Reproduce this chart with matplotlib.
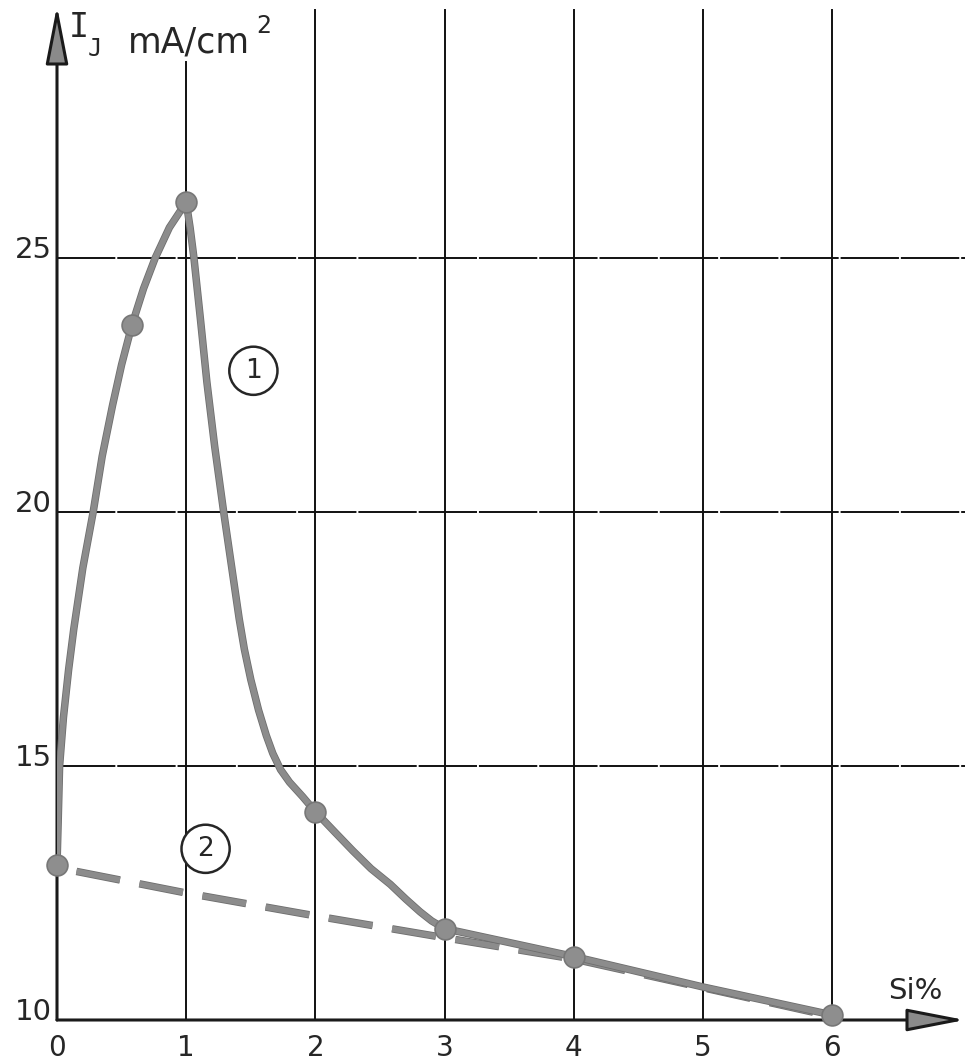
import matplotlib
matplotlib.use('Agg')
import matplotlib.pyplot as plt
import matplotlib.patheffects as pe

# ---- data ----
si_ticks = [0, 1, 2, 3, 4, 5, 6]
si_labels = ['0', '1', '2', '3', '4', '5', '6']
ij_ticks = [10, 15, 20, 25]
ij_labels = ['10', '15', '20', '25']

# curve 1 (solid)
curve1_x = [0.0, 0.01, 0.02, 0.05, 0.09, 0.13, 0.20, 0.28, 0.35, 0.43, 0.50, 0.58,
            0.67, 0.76, 0.87, 1.0, 1.03, 1.06, 1.11, 1.16, 1.22, 1.29, 1.33, 1.37,
            1.41, 1.45, 1.50, 1.56, 1.62, 1.67, 1.73, 1.80, 1.90, 2.0, 2.15, 2.29,
            2.43, 2.58, 2.70, 2.81, 2.90, 3.0, 4.0, 5.0, 6.0]
curve1_y = [13.05, 14.0, 15.0, 15.96, 16.9, 17.7, 18.9, 20.0, 21.1, 22.1, 22.9, 23.68,
            24.4, 25.0, 25.6, 26.1, 25.6, 25.0, 23.8, 22.56, 21.3, 20.0, 19.3, 18.6,
            17.9, 17.3, 16.7, 16.1, 15.6, 15.25, 14.93, 14.68, 14.4, 14.1, 13.7, 13.33,
            12.98, 12.67, 12.38, 12.13, 11.95, 11.8, 11.25, 10.65, 10.1]
# measured points on curve 1
points1_x = [0, 0.58, 1, 2, 3, 4, 6]
points1_y = [13.05, 23.68, 26.1, 14.1, 11.8, 11.25, 10.1]
# curve 2 (dashed)
curve2_x = [0, 1, 2, 3, 4, 6]
curve2_y = [13.0, 12.5, 12.05, 11.62, 11.2, 10.07]

W, H = 965, 1064
fig = plt.figure(figsize=(W / 100, H / 100), dpi=100)
fig.patch.set_facecolor('white')
ax = fig.add_axes([57 / W, (H - 1020) / H, (W - 57) / W, 1020 / H])
ax.set_xlim(0, 908 / 129.2)
ax.set_ylim(10, 10 + 1020 / 50.8)
for s in ax.spines.values():
    s.set_visible(False)

ink = '#262626'
ax.set_xticks(si_ticks)
ax.set_xticklabels(si_labels)
ax.set_yticks(ij_ticks)
ax.set_yticklabels(ij_labels)
ax.tick_params(axis='both', length=0, labelsize=21, colors=ink)
ax.tick_params(axis='x', labelsize=20, pad=26)
ax.tick_params(axis='y', pad=4)
for lab in ax.get_yticklabels():
    lab.set_verticalalignment('baseline')
for lab in ax.get_xticklabels():
    lab.set_verticalalignment('baseline')

# grid
for x in si_ticks[1:]:
    ax.axvline(x, ymin=0, ymax=(0.939 if x == 1 else 0.99), color='#111', lw=1.4, zorder=1)
for y in ij_ticks[1:]:
    ax.axhline(y, color='#111', lw=1.4, ls=(0, (30, 1)), zorder=1)

# axes with arrows
arrow_kw = dict(arrowstyle='-|>,head_length=1.8,head_width=0.35', mutation_scale=20,
                lw=2.2, color='#1a1a1a', shrinkA=0, shrinkB=0)
ax.annotate('', xy=(0, 1 - 6 / 1020), xycoords='axes fraction', xytext=(0, 0),
            textcoords='axes fraction', arrowprops=dict(arrow_kw, fc='#8a8a8a'),
            annotation_clip=False)
ax.annotate('', xy=(1.0, 0), xycoords='axes fraction', xytext=(0, 0),
            textcoords='axes fraction', arrowprops=dict(arrow_kw, fc='#8a8a8a'),
            annotation_clip=False)

line_col = '#8c8c8c'
edge = [pe.Stroke(linewidth=5.4, foreground='#6e6e6e'), pe.Normal()]
ax.plot(curve2_x, curve2_y, color=line_col, lw=4.2, ls=(7.6, (7.6, 3.4)),
        zorder=2, path_effects=edge)
ax.plot(curve1_x, curve1_y, color=line_col, lw=4.2, solid_capstyle='round',
        solid_joinstyle='round', zorder=3, path_effects=edge)
ax.plot(points1_x, points1_y, 'o', ms=15, color='#8e8e8e', mec='#777777', mew=1.2,
        zorder=4, clip_on=False)

# curve labels
circ = dict(boxstyle='circle,pad=0.42', fc='white', ec=ink, lw=1.8)
ax.text(1.52, 22.78, '1', ha='center', va='center', fontsize=19, color=ink, bbox=circ, zorder=5)
ax.text(1.15, 13.37, '2', ha='center', va='center', fontsize=19, color=ink, bbox=circ, zorder=5)

# axis titles
fig.text(69 / W, 1 - 37 / H, 'I', fontsize=24, color=ink, va='baseline', family='DejaVu Sans Mono')
fig.text(88 / W, 1 - 56 / H, 'J', fontsize=17, color=ink, va='baseline', family='DejaVu Sans Mono')
fig.text(128 / W, 1 - 53 / H, 'mA/cm', fontsize=25, color=ink, va='baseline')
fig.text(256 / W, 1 - 33 / H, '2', fontsize=17, color=ink, va='baseline')
fig.text(888 / W, 1 - 999 / H, 'Si%', fontsize=21, color=ink, va='baseline')

fig.savefig('out.png', dpi=100, facecolor='white')
